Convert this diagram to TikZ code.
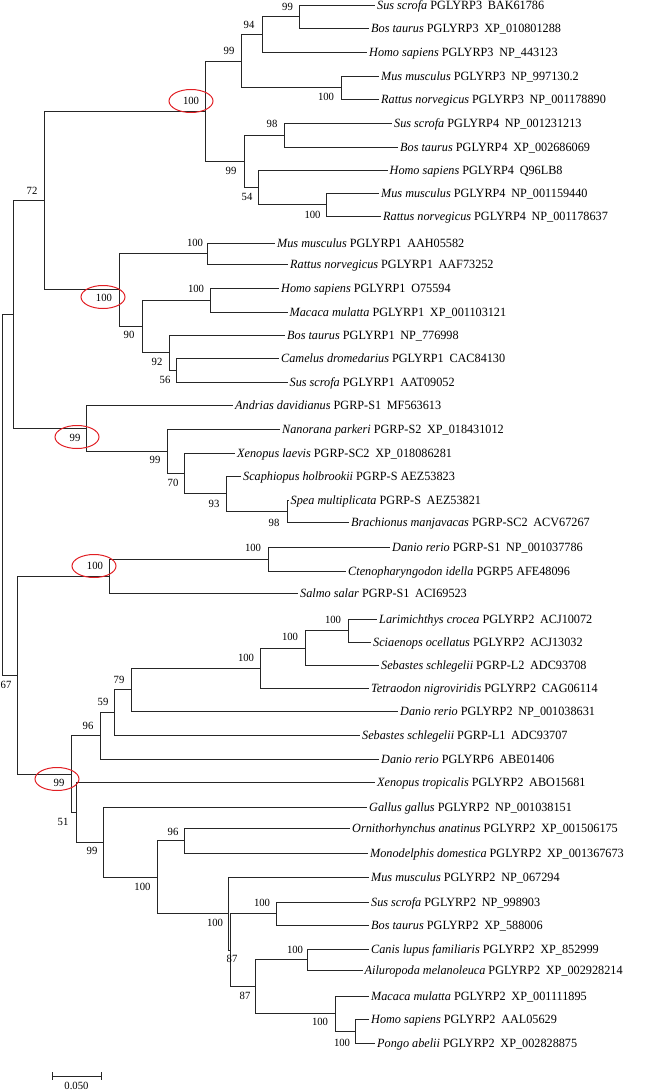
\documentclass[tikz,border=0pt]{standalone}
\usepackage{fontspec}
\setmainfont{Liberation Serif}[FakeStretch=0.97]
\usetikzlibrary{shapes.geometric}
\definecolor{ringred}{RGB}{225,30,35}
\newcommand\gp{\hskip0.45em\relax}
\begin{document}
\begin{tikzpicture}[x=1pt,y=-1pt,
  br/.style={line width=0.9pt,draw=black!85},
  leaflab/.style={anchor=base west,inner sep=0pt,xshift=2pt,yshift=-4.4pt,font=\fontsize{12.6}{12.6}\selectfont},
  bs/.style={inner sep=0pt,font=\fontsize{11}{11}\selectfont},
  ring/.style={draw=ringred,line width=1pt,ellipse,minimum width=44pt,minimum height=23pt,inner sep=0pt}]
\useasboundingbox (0,0) rectangle (650,1091);
\newcommand\leaf[4]{\coordinate (#1) at (#2,#3); \node[leaflab] (#1t) at (#1) {#4};}
% leaves
\leaf{L1}{375}{5}{\textit{Sus scrofa} PGLYRP3\gp BAK61786}
\leaf{L2}{369}{28}{\textit{Bos taurus} PGLYRP3\gp XP\_010801288}
\leaf{L3}{367}{52}{\textit{Homo sapiens} PGLYRP3\gp NP\_443123}
\leaf{L4}{379}{76}{\textit{Mus musculus} PGLYRP3\gp NP\_997130.2}
\leaf{L5}{379}{99}{\textit{Rattus norvegicus} PGLYRP3\gp NP\_001178890}
\leaf{L6}{392}{123}{\textit{Sus scrofa} PGLYRP4\gp NP\_001231213}
\leaf{L7}{398}{147}{\textit{Bos taurus} PGLYRP4\gp XP\_002686069}
\leaf{L8}{387.5}{170}{\textit{Homo sapiens} PGLYRP4\gp Q96LB8}
\leaf{L9}{379}{193}{\textit{Mus musculus} PGLYRP4\gp NP\_001159440}
\leaf{L10}{381}{216}{\textit{Rattus norvegicus} PGLYRP4\gp NP\_001178637}
\leaf{L11}{275}{243}{\textit{Mus musculus} PGLYRP1\gp AAH05582}
\leaf{L12}{288}{264}{\textit{Rattus norvegicus} PGLYRP1\gp AAF73252}
\leaf{L13}{279}{288}{\textit{Homo sapiens} PGLYRP1\gp O75594}
\leaf{L14}{287.5}{312}{\textit{Macaca mulatta} PGLYRP1\gp XP\_001103121}
\leaf{L15}{285}{335}{\textit{Bos taurus} PGLYRP1\gp NP\_776998}
\leaf{L16}{279}{358}{\textit{Camelus dromedarius} PGLYRP1\gp CAC84130}
\leaf{L17}{287.5}{382}{\textit{Sus scrofa} PGLYRP1\gp AAT09052}
\leaf{L18}{233}{405}{\textit{Andrias davidianus} PGRP-S1\gp MF563613}
\leaf{L19}{280}{429}{\textit{Nanorana parkeri} PGRP-S2\gp XP\_018431012}
\leaf{L20}{235}{453}{\textit{Xenopus laevis} PGRP-SC2\gp XP\_018086281}
\leaf{L21}{241}{476}{\textit{Scaphiopus holbrookii} PGRP-S AEZ53823}
\leaf{L22}{288.5}{500}{\textit{Spea multiplicata} PGRP-S\gp AEZ53821}
\leaf{L23}{349}{522}{\textit{Brachionus manjavacas} PGRP-SC2\gp ACV67267}
\leaf{L24}{390}{547}{\textit{Danio rerio} PGRP-S1\gp NP\_001037786}
\leaf{L25}{346}{571}{\textit{Ctenopharyngodon idella} PGRP5 AFE48096}
\leaf{L26}{298}{593}{\textit{Salmo salar} PGRP-S1\gp ACI69523}
\leaf{L27}{377}{619}{\textit{Larimichthys crocea} PGLYRP2\gp ACJ10072}
\leaf{L28}{371}{642}{\textit{Sciaenops ocellatus} PGLYRP2\gp ACJ13032}
\leaf{L29}{379}{665}{\textit{Sebastes schlegelii} PGRP-L2\gp ADC93708}
\leaf{L30}{369}{688}{\textit{Tetraodon nigroviridis} PGLYRP2\gp CAG06114}
\leaf{L31}{398}{711}{\textit{Danio rerio} PGLYRP2\gp NP\_001038631}
\leaf{L32}{360}{735}{\textit{Sebastes schlegelii} PGRP-L1\gp ADC93707}
\leaf{L33}{379}{759}{\textit{Danio rerio} PGLYRP6\gp ABE01406}
\leaf{L34}{375}{782}{\textit{Xenopus tropicalis} PGLYRP2\gp ABO15681}
\leaf{L35}{367}{807}{\textit{Gallus gallus} PGLYRP2\gp NP\_001038151}
\leaf{L36}{350}{828}{\textit{Ornithorhynchus anatinus} PGLYRP2\gp XP\_001506175}
\leaf{L37}{368}{853}{\textit{Monodelphis domestica} PGLYRP2\gp XP\_001367673}
\leaf{L38}{369}{877}{\textit{Mus musculus} PGLYRP2\gp NP\_067294}
\leaf{L39}{369}{902}{\textit{Sus scrofa} PGLYRP2\gp NP\_998903}
\leaf{L40}{369}{925}{\textit{Bos taurus} PGLYRP2\gp XP\_588006}
\leaf{L41}{369}{949}{\textit{Canis lupus familiaris} PGLYRP2\gp XP\_852999}
\leaf{L42}{362.5}{970}{\textit{Ailuropoda melanoleuca} PGLYRP2\gp XP\_002928214}
\leaf{L43}{369}{996}{\textit{Macaca mulatta} PGLYRP2\gp XP\_001111895}
\leaf{L44}{369}{1019}{\textit{Homo sapiens} PGLYRP2\gp AAL05629}
\leaf{L45}{375}{1043}{\textit{Pongo abelii} PGLYRP2\gp XP\_002828875}
% internal nodes
\coordinate (a1) at (299,16.5);
\coordinate (a2) at (262,34);
\coordinate (a3) at (341,87.5);
\coordinate (a4) at (241,61);
\coordinate (a5) at (284,135);
\coordinate (a6) at (326,204.5);
\coordinate (a7) at (258,187);
\coordinate (a8) at (244,161);
\coordinate (a9) at (205,111);
\coordinate (b1) at (207.5,253.5);
\coordinate (b2) at (210,300);
\coordinate (b3) at (176,370);
\coordinate (b4) at (169,352.5);
\coordinate (b5) at (142,326);
\coordinate (b6) at (119.6,289);
\coordinate (c0) at (44.6,200);
\coordinate (d1) at (287,511);
\coordinate (d2) at (226,493.5);
\coordinate (d3) at (184,473);
\coordinate (d4) at (167,451);
\coordinate (d5) at (86.5,428);
\coordinate (e0) at (13,314);
\coordinate (f1) at (268,559);
\coordinate (f2) at (109,576);
\coordinate (g1) at (348,630.5);
\coordinate (g2) at (305,648);
\coordinate (g3) at (260,668);
\coordinate (g4) at (131,689.5);
\coordinate (g5) at (114,712);
\coordinate (g6) at (100,735.5);
\coordinate (h1) at (184,840.5);
\coordinate (h2) at (276,913.5);
\coordinate (h3) at (307.5,959.5);
\coordinate (h4) at (355,1031);
\coordinate (h5) at (335,1013.5);
\coordinate (h6) at (255,986.5);
\coordinate (h7) at (230,950);
\coordinate (h8) at (228,913.5);
\coordinate (h9) at (157,877);
\coordinate (h10) at (103,842);
\coordinate (h11) at (76,812);
\coordinate (h12) at (71,774);
\coordinate (i0) at (17.5,675);
\coordinate (root) at (2.7,494.5);
% branches
\foreach \p/\c in {a1/L1,a1/L2,a2/a1,a2/L3,a3/L4,a3/L5,a4/a2,a4/a3,
  a5/L6,a5/L7,a6/L9,a6/L10,a7/L8,a7/a6,a8/a5,a8/a7,a9/a4,a9/a8,
  b1/L11,b1/L12,b2/L13,b2/L14,b3/L16,b3/L17,b4/L15,b4/b3,b5/b2,b5/b4,b6/b1,b6/b5,
  c0/a9,c0/b6,
  d1/L22,d1/L23,d2/L21,d2/d1,d3/L20,d3/d2,d4/L19,d4/d3,d5/L18,d5/d4,
  e0/c0,e0/d5,
  f1/L24,f1/L25,f2/f1,f2/L26,
  g1/L27,g1/L28,g2/g1,g2/L29,g3/g2,g3/L30,g4/g3,g4/L31,g5/g4,g5/L32,g6/g5,g6/L33,
  h1/L36,h1/L37,h2/L39,h2/L40,h3/L41,h3/L42,h4/L44,h4/L45,h5/L43,h5/h4,
  h6/h3,h6/h5,h7/h2,h7/h6,h8/L38,h8/h7,h9/h1,h9/h8,h10/L35,h10/h9,
  h11/L34,h11/h10,h12/g6,h12/h11,
  i0/f2,i0/h12,root/e0,root/i0}
  \draw[br] (\p) |- (\c);
% bootstrap values
\foreach \x/\y/\v [count=\i] in {287.5/7/99,249/25/94,229/51/99,326/97/100,191/101/100,272/124/98,
  231/171/99,32/191/72,247/197/54,312.5/215/100,195/243/100,196/289/100,104/298/100,
  129/335/90,157/362/92,165/380/56,155/460/99,75/438/99,173/483/70,214/504/93,274/523/98,
  253/548/100,95/566/100,333/620/100,290/637/100,246/658/100,119/680/79,6/685/67,
  103/702/59,88/726/96,59/783/99,63/822/51,92/851/99,173/832/96,142.5/887/100,
  262/903/100,215/923/100,295/950/100,232/959/87,245/996/87,320/1022/100,342/1043/100}
  \node[bs] (bs\i) at (\x,\y) {\v};
% red rings
\node[ring] (r1) at (191,101) {};
\node[ring] (r2) at (103,297) {};
\node[ring] (r3) at (77,437) {};
\node[ring] (r4) at (94,566) {};
\node[ring] (r5) at (57,779) {};
% scale bar
\coordinate (sb1) at (52,1076);
\coordinate (sb2) at (101,1076);
\draw[br] (sb1) -- (sb2);
\draw[br] ([yshift=4pt]sb1) -- ([yshift=-4pt]sb1);
\draw[br] ([yshift=4pt]sb2) -- ([yshift=-4pt]sb2);
\node[bs] (sbl) at (76.5,1085.5) {0.050};
\end{tikzpicture}
\end{document}
